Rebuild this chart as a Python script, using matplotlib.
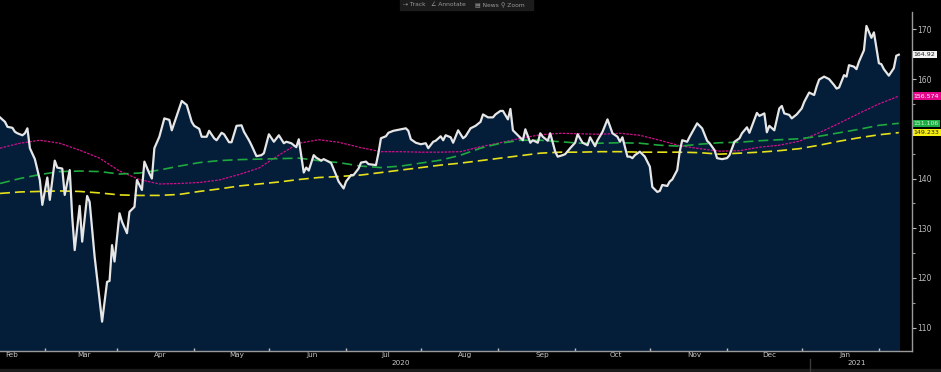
import pandas as pd
import matplotlib
matplotlib.use("Agg")
import matplotlib.pyplot as plt
import matplotlib.dates as mdates
from matplotlib.lines import Line2D
from matplotlib.patches import Rectangle

start = pd.Timestamp("2020-02-01")

# price series, read at turning points (days after 1 Feb 2020)
price_day = [-2, 0, 1, 3, 4, 5, 7, 8, 9, 10, 12, 14, 15, 17, 18, 20, 21, 23, 24, 26,
             27, 28, 30, 31, 33, 34, 36, 39, 41, 42, 43, 44, 46, 47, 49, 50, 52, 53, 55, 56,
             58, 59, 60, 62, 64, 66, 67, 71, 73, 75, 76, 78, 79, 81, 82, 84, 85, 87, 88, 90,
             91, 93, 95, 96, 98, 99, 101, 103, 104, 106, 108, 110, 112, 113, 115, 117, 118, 120, 121, 122,
             124, 125, 127, 128, 130, 131, 133, 134, 136, 137, 139, 140, 142, 143, 145, 146, 149, 150, 151, 153,
             154, 156, 159, 161, 162, 163, 165, 167, 169, 170, 172, 173, 175, 176, 177, 179, 180, 182, 183, 184,
             185, 187, 189, 191, 192, 194, 196, 197, 199, 200, 202, 203, 204, 206, 208, 209, 211, 212, 214, 215,
             216, 218, 219, 221, 222, 224, 225, 227, 229, 230, 232, 234, 235, 237, 238, 240, 242, 244, 246, 247,
             248, 250, 251, 252, 253, 255, 257, 259, 260, 262, 263, 264, 266, 267, 268, 270, 271, 272, 274, 275,
             277, 278, 280, 282, 283, 285, 286, 288, 290, 291, 293, 295, 296, 298, 299, 301, 302, 303, 305, 306,
             307, 309, 311, 312, 313, 315, 316, 318, 320, 321, 323, 325, 326, 327, 329, 331, 333, 334, 335, 337,
             338, 339, 341, 342, 343, 345, 346, 348, 349, 351, 352, 353, 355, 357, 358, 359]
price = [152.3, 151.4, 150.4, 150.2, 149.4, 149.1, 148.7, 149.1, 150.1, 146.1, 143.9, 139.7, 134.7, 140.2, 135.7, 143.6, 142.2, 142.0, 136.7, 141.7,
         132.3, 125.6, 134.5, 127.3, 136.5, 135.3, 124.3, 111.2, 119.2, 119.4, 126.6, 123.3, 133.0, 131.3, 129.0, 133.3, 134.3, 139.7, 137.7, 143.4,
         141.0, 140.0, 146.1, 148.4, 152.1, 151.8, 149.7, 155.6, 154.8, 151.4, 150.6, 150.0, 148.4, 148.4, 149.6, 148.1, 147.7, 149.2, 148.9, 147.3,
         147.3, 150.6, 150.7, 149.4, 147.7, 146.7, 144.5, 144.7, 145.1, 148.9, 147.4, 148.7, 147.1, 147.4, 147.1, 146.3, 147.9, 141.2, 142.2, 141.6,
         144.7, 144.2, 143.6, 143.9, 143.4, 143.1, 140.7, 139.4, 138.0, 139.4, 140.7, 140.7, 142.0, 143.2, 143.4, 142.9, 142.7, 145.1, 148.1, 148.5,
         149.2, 149.6, 149.9, 150.1, 149.6, 147.9, 147.2, 146.9, 147.1, 146.1, 147.4, 147.6, 148.5, 147.7, 148.7, 148.3, 147.2, 149.7, 148.9, 148.1,
         148.5, 150.1, 150.6, 151.4, 152.9, 152.3, 152.3, 152.9, 153.6, 153.6, 151.9, 154.0, 149.7, 148.7, 147.7, 149.9, 147.2, 147.7, 147.2, 149.1,
         148.4, 147.6, 149.1, 145.4, 144.4, 144.7, 144.9, 146.1, 147.2, 148.9, 147.2, 146.7, 148.3, 146.5, 147.7, 149.4, 151.9, 149.1, 148.4, 147.4,
         148.3, 144.4, 144.4, 144.1, 144.7, 145.4, 144.4, 142.4, 138.3, 137.3, 137.5, 138.7, 138.5, 139.4, 139.8, 141.7, 145.4, 147.7, 147.4, 148.4,
         150.2, 151.1, 150.1, 147.6, 147.1, 145.7, 144.1, 143.9, 144.1, 144.7, 147.4, 148.1, 149.1, 150.3, 149.2, 151.9, 153.2, 152.6, 153.1, 149.3,
         150.6, 149.7, 154.1, 154.6, 153.1, 152.8, 152.1, 152.9, 154.1, 155.4, 157.3, 156.8, 158.5, 159.9, 160.5, 160.0, 158.8, 158.1, 158.3, 160.8,
         160.5, 162.8, 162.5, 162.0, 163.5, 165.8, 170.7, 168.3, 169.4, 163.2, 163.0, 162.0, 160.7, 162.2, 164.7, 164.92]

# moving averages, read every ~8 days
ma_day = [-2, 6, 14, 22, 30, 38, 46, 54, 62, 70, 78, 86, 94, 102, 110, 118, 126, 134, 143, 151,
          159, 167, 175, 183, 191, 199, 207, 215, 223, 231, 239, 247, 255, 263, 271, 279, 287, 295, 303, 311,
          319, 327, 335, 343, 351, 359]
ma_50 = [146.1, 147.1, 147.7, 147.1, 145.7, 144.1, 141.5, 139.8, 138.9, 139.0, 139.2, 139.7, 140.8, 142.1, 144.7, 147.1, 147.8, 147.3, 146.2, 145.4,
         145.4, 145.3, 145.3, 145.4, 146.4, 147.2, 148.1, 148.8, 149.1, 149.0, 148.9, 149.1, 148.7, 147.7, 146.6, 146.0, 145.5, 145.6, 146.3, 146.7,
         147.5, 149.2, 151.1, 153.1, 155.0, 156.574]
ma_100 = [139.0, 140.0, 140.8, 141.4, 141.5, 141.4, 140.9, 141.1, 141.7, 142.5, 143.2, 143.6, 143.8, 143.9, 144.0, 144.1, 143.6, 143.2, 142.5, 142.2,
          142.5, 143.1, 143.7, 144.7, 146.1, 147.1, 147.7, 147.7, 147.4, 147.1, 147.1, 147.2, 147.1, 146.7, 146.5, 146.9, 147.2, 147.3, 147.6, 147.8,
          148.0, 148.5, 149.2, 149.9, 150.7, 151.106]
ma_200 = [137.0, 137.3, 137.4, 137.5, 137.4, 137.1, 136.7, 136.6, 136.6, 136.8, 137.4, 137.9, 138.5, 138.9, 139.3, 139.8, 140.2, 140.4, 140.7, 141.2,
          141.7, 142.2, 142.7, 143.1, 143.6, 144.1, 144.6, 145.1, 145.3, 145.3, 145.4, 145.4, 145.3, 145.3, 145.3, 145.2, 144.9, 145.1, 145.3, 145.6,
          146.0, 146.7, 147.5, 148.2, 148.8, 149.233]

y_ticks = [110, 120, 130, 140, 160, 170]

dates = start + pd.to_timedelta(price_day, unit="D")
ma_dates = start + pd.to_timedelta(ma_day, unit="D")

W, H = 941, 372
fig = plt.figure(figsize=(W / 100, H / 100), dpi=100, facecolor="black")
ax = fig.add_axes([0, 21 / H, 912 / W, (351 - 12) / H], facecolor="black")

ymin, ymax = 105.3, 173.5
ax.fill_between(dates, price, ymin, color="#041d39", zorder=1)
ax.plot(ma_dates, ma_50, color="#d0108c", lw=0.9, ls=(0, (2, 1)), zorder=2)
ax.plot(ma_dates, ma_100, color="#1fa83e", lw=1.2, ls=(0, (6, 3)), zorder=2)
ax.plot(ma_dates, ma_200, color="#e6e01a", lw=1.2, ls=(0, (6, 3)), zorder=2)
ax.plot(dates, price, color="#e6e6e6", lw=1.6, zorder=3)

ax.set_ylim(ymin, ymax)
ax.set_xlim(start - pd.Timedelta(days=2), start + pd.Timedelta(days=364.3))

# right axis
ax.yaxis.tick_right()
ax.set_yticks(y_ticks)
ax.set_yticks(range(115, 171, 10), minor=True)
ax.tick_params(axis="y", which="major", colors="#bdbdbd", labelsize=5.5, length=3, width=0.8, pad=1)
ax.tick_params(axis="y", which="minor", colors="#9a9a9a", length=2, width=0.8)

# bottom axis: month labels left aligned at month start, small ticks mid-month
ax.xaxis.set_major_locator(mdates.MonthLocator())
ax.xaxis.set_major_formatter(mdates.DateFormatter("%b"))
ax.xaxis.set_minor_locator(mdates.MonthLocator(bymonthday=17))
ax.tick_params(axis="x", which="major", colors="#c8c8c8", labelsize=5.2, length=0, pad=1)
ax.tick_params(axis="x", which="minor", colors="#bdbdbd", length=2, width=1, direction="in")
for lbl in ax.get_xticklabels():
    lbl.set_horizontalalignment("left")

for side in ["top", "left"]:
    ax.spines[side].set_visible(False)
ax.spines["right"].set_color("#9a9a9a")
ax.spines["bottom"].set_color("#9a9a9a")
ax.spines["right"].set_linewidth(1.0)
ax.spines["bottom"].set_linewidth(1.0)

# year labels
trans = ax.get_xaxis_transform()
ax.text(pd.Timestamp("2020-07-09"), -0.027, "2020", transform=trans, color="#c8c8c8",
        fontsize=5.2, ha="center", va="top", clip_on=False)
ax.text(pd.Timestamp("2021-01-08"), -0.027, "2021", transform=trans, color="#c8c8c8",
        fontsize=5.2, ha="center", va="top", clip_on=False)

# last value tags on the right axis
tags = [
    (price[-1], "164.92", "#f2f2f2", "#202020"),
    (ma_50[-1], "156.574", "#e3058a", "white"),
    (ma_100[-1], "151.106", "#1cae45", "#d8f0d8"),
    (ma_200[-1], "149.233", "#f4ef10", "#202020"),
]
for val, txt, bg, fg in tags:
    ax.annotate(txt, xy=(1.002, val), xycoords=("axes fraction", "data"), fontsize=4.5,
                color=fg, ha="left", va="center", annotation_clip=False,
                bbox=dict(boxstyle="square,pad=0.2", fc=bg, ec="none"))

# frame bits from the terminal window
fig.add_artist(Line2D([810 / W, 810 / W], [0, 13 / H], color="#3a3a3a", lw=1))
fig.add_artist(Rectangle((0, 0), 1, 3.5 / H, color="#1b1b1b", transform=fig.transFigure))
fig.add_artist(Rectangle((400 / W, 1 - 10 / H), 133 / W, 10 / H, color="#1c1c1c",
                         transform=fig.transFigure))
for xp, t in [(403, "\u21e2 Track"), (431, "\u2220 Annotate"), (475, "\u25a4 News"), (501, "\u26b2 Zoom")]:
    fig.text(xp / W, 1 - 5 / H, t, color="#9a9a9a", fontsize=4.3, ha="left", va="center")

fig.savefig("out.png", dpi=100, facecolor="black")
